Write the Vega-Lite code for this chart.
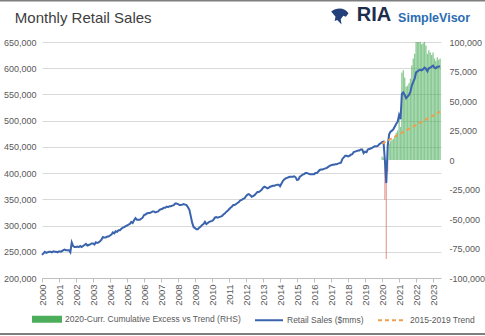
{
"$schema": "https://vega.github.io/schema/vega-lite/v6.json",
"width": 399, "height": 236,
"autosize": {"type": "none"},
"padding": {"left": 42, "top": 42, "right": 44, "bottom": 58},
"background": "white",
"config": {"view": {"stroke": null}, "axis": {"labelFont": "Liberation Sans", "labelColor": "#595959"}, "scale": {"continuousPadding": 0}},
"datasets": {
"heading": [{"label": "Monthly Retail Sales"}],
"logo": [{"label": "RIA"}],
"logo2": [{"label": "SimpleVisor"}],
"one": [{"k": 1}]
},
"data": {"values": [
{"date":"2000-01-01","sales":244000},{"date":"2000-02-01","sales":247000},{"date":"2000-03-01","sales":250000},{"date":"2000-04-01","sales":248000},{"date":"2000-05-01","sales":249000},{"date":"2000-06-01","sales":250000},{"date":"2000-07-01","sales":250000},{"date":"2000-08-01","sales":249000},{"date":"2000-09-01","sales":251000},{"date":"2000-10-01","sales":250000},{"date":"2000-11-01","sales":250000},{"date":"2000-12-01","sales":249000},
{"date":"2001-01-01","sales":251000},{"date":"2001-02-01","sales":250000},{"date":"2001-03-01","sales":251000},{"date":"2001-04-01","sales":253000},{"date":"2001-05-01","sales":254000},{"date":"2001-06-01","sales":253000},{"date":"2001-07-01","sales":253000},{"date":"2001-08-01","sales":253000},{"date":"2001-09-01","sales":249000},{"date":"2001-10-01","sales":268000},{"date":"2001-11-01","sales":261000},{"date":"2001-12-01","sales":259000},
{"date":"2002-01-01","sales":259000},{"date":"2002-02-01","sales":260000},{"date":"2002-03-01","sales":259000},{"date":"2002-04-01","sales":261000},{"date":"2002-05-01","sales":259000},{"date":"2002-06-01","sales":261000},{"date":"2002-07-01","sales":263000},{"date":"2002-08-01","sales":265000},{"date":"2002-09-01","sales":262000},{"date":"2002-10-01","sales":263000},{"date":"2002-11-01","sales":264000},{"date":"2002-12-01","sales":266000},
{"date":"2003-01-01","sales":266000},{"date":"2003-02-01","sales":264000},{"date":"2003-03-01","sales":268000},{"date":"2003-04-01","sales":267000},{"date":"2003-05-01","sales":268000},{"date":"2003-06-01","sales":270000},{"date":"2003-07-01","sales":273000},{"date":"2003-08-01","sales":278000},{"date":"2003-09-01","sales":277000},{"date":"2003-10-01","sales":277000},{"date":"2003-11-01","sales":279000},{"date":"2003-12-01","sales":279000},
{"date":"2004-01-01","sales":281000},{"date":"2004-02-01","sales":283000},{"date":"2004-03-01","sales":287000},{"date":"2004-04-01","sales":285000},{"date":"2004-05-01","sales":289000},{"date":"2004-06-01","sales":288000},{"date":"2004-07-01","sales":291000},{"date":"2004-08-01","sales":291000},{"date":"2004-09-01","sales":294000},{"date":"2004-10-01","sales":296000},{"date":"2004-11-01","sales":297000},{"date":"2004-12-01","sales":299000},
{"date":"2005-01-01","sales":300000},{"date":"2005-02-01","sales":302000},{"date":"2005-03-01","sales":303000},{"date":"2005-04-01","sales":307000},{"date":"2005-05-01","sales":305000},{"date":"2005-06-01","sales":310000},{"date":"2005-07-01","sales":314000},{"date":"2005-08-01","sales":311000},{"date":"2005-09-01","sales":311000},{"date":"2005-10-01","sales":311000},{"date":"2005-11-01","sales":313000},{"date":"2005-12-01","sales":315000},
{"date":"2006-01-01","sales":320000},{"date":"2006-02-01","sales":321000},{"date":"2006-03-01","sales":323000},{"date":"2006-04-01","sales":324000},{"date":"2006-05-01","sales":324000},{"date":"2006-06-01","sales":325000},{"date":"2006-07-01","sales":327000},{"date":"2006-08-01","sales":327000},{"date":"2006-09-01","sales":325000},{"date":"2006-10-01","sales":326000},{"date":"2006-11-01","sales":327000},{"date":"2006-12-01","sales":330000},
{"date":"2007-01-01","sales":331000},{"date":"2007-02-01","sales":332000},{"date":"2007-03-01","sales":334000},{"date":"2007-04-01","sales":334000},{"date":"2007-05-01","sales":336000},{"date":"2007-06-01","sales":335000},{"date":"2007-07-01","sales":337000},{"date":"2007-08-01","sales":337000},{"date":"2007-09-01","sales":338000},{"date":"2007-10-01","sales":339000},{"date":"2007-11-01","sales":342000},{"date":"2007-12-01","sales":342000},
{"date":"2008-01-01","sales":341000},{"date":"2008-02-01","sales":339000},{"date":"2008-03-01","sales":339000},{"date":"2008-04-01","sales":340000},{"date":"2008-05-01","sales":341000},{"date":"2008-06-01","sales":340000},{"date":"2008-07-01","sales":339000},{"date":"2008-08-01","sales":335000},{"date":"2008-09-01","sales":330000},{"date":"2008-10-01","sales":318000},{"date":"2008-11-01","sales":305000},{"date":"2008-12-01","sales":297000},
{"date":"2009-01-01","sales":295000},{"date":"2009-02-01","sales":293000},{"date":"2009-03-01","sales":293000},{"date":"2009-04-01","sales":296000},{"date":"2009-05-01","sales":298000},{"date":"2009-06-01","sales":301000},{"date":"2009-07-01","sales":303000},{"date":"2009-08-01","sales":307000},{"date":"2009-09-01","sales":303000},{"date":"2009-10-01","sales":305000},{"date":"2009-11-01","sales":307000},{"date":"2009-12-01","sales":308000},
{"date":"2010-01-01","sales":309000},{"date":"2010-02-01","sales":311000},{"date":"2010-03-01","sales":315000},{"date":"2010-04-01","sales":316000},{"date":"2010-05-01","sales":315000},{"date":"2010-06-01","sales":316000},{"date":"2010-07-01","sales":317000},{"date":"2010-08-01","sales":318000},{"date":"2010-09-01","sales":321000},{"date":"2010-10-01","sales":323000},{"date":"2010-11-01","sales":326000},{"date":"2010-12-01","sales":328000},
{"date":"2011-01-01","sales":331000},{"date":"2011-02-01","sales":334000},{"date":"2011-03-01","sales":336000},{"date":"2011-04-01","sales":339000},{"date":"2011-05-01","sales":339000},{"date":"2011-06-01","sales":341000},{"date":"2011-07-01","sales":343000},{"date":"2011-08-01","sales":345000},{"date":"2011-09-01","sales":348000},{"date":"2011-10-01","sales":349000},{"date":"2011-11-01","sales":351000},{"date":"2011-12-01","sales":352000},
{"date":"2012-01-01","sales":356000},{"date":"2012-02-01","sales":359000},{"date":"2012-03-01","sales":360000},{"date":"2012-04-01","sales":358000},{"date":"2012-05-01","sales":355000},{"date":"2012-06-01","sales":356000},{"date":"2012-07-01","sales":358000},{"date":"2012-08-01","sales":361000},{"date":"2012-09-01","sales":364000},{"date":"2012-10-01","sales":364000},{"date":"2012-11-01","sales":366000},{"date":"2012-12-01","sales":368000},
{"date":"2013-01-01","sales":372000},{"date":"2013-02-01","sales":374000},{"date":"2013-03-01","sales":373000},{"date":"2013-04-01","sales":371000},{"date":"2013-05-01","sales":372000},{"date":"2013-06-01","sales":374000},{"date":"2013-07-01","sales":375000},{"date":"2013-08-01","sales":376000},{"date":"2013-09-01","sales":376000},{"date":"2013-10-01","sales":377000},{"date":"2013-11-01","sales":378000},{"date":"2013-12-01","sales":378000},
{"date":"2014-01-01","sales":375000},{"date":"2014-02-01","sales":380000},{"date":"2014-03-01","sales":385000},{"date":"2014-04-01","sales":388000},{"date":"2014-05-01","sales":390000},{"date":"2014-06-01","sales":391000},{"date":"2014-07-01","sales":392000},{"date":"2014-08-01","sales":393000},{"date":"2014-09-01","sales":393000},{"date":"2014-10-01","sales":393000},{"date":"2014-11-01","sales":394000},{"date":"2014-12-01","sales":392000},
{"date":"2015-01-01","sales":387000},{"date":"2015-02-01","sales":388000},{"date":"2015-03-01","sales":393000},{"date":"2015-04-01","sales":395000},{"date":"2015-05-01","sales":397000},{"date":"2015-06-01","sales":398000},{"date":"2015-07-01","sales":400000},{"date":"2015-08-01","sales":400000},{"date":"2015-09-01","sales":399000},{"date":"2015-10-01","sales":398000},{"date":"2015-11-01","sales":398000},{"date":"2015-12-01","sales":398000},
{"date":"2016-01-01","sales":398000},{"date":"2016-02-01","sales":400000},{"date":"2016-03-01","sales":400000},{"date":"2016-04-01","sales":403000},{"date":"2016-05-01","sales":406000},{"date":"2016-06-01","sales":407000},{"date":"2016-07-01","sales":407000},{"date":"2016-08-01","sales":408000},{"date":"2016-09-01","sales":409000},{"date":"2016-10-01","sales":410000},{"date":"2016-11-01","sales":412000},{"date":"2016-12-01","sales":414000},
{"date":"2017-01-01","sales":415000},{"date":"2017-02-01","sales":416000},{"date":"2017-03-01","sales":416000},{"date":"2017-04-01","sales":417000},{"date":"2017-05-01","sales":417000},{"date":"2017-06-01","sales":418000},{"date":"2017-07-01","sales":419000},{"date":"2017-08-01","sales":420000},{"date":"2017-09-01","sales":427000},{"date":"2017-10-01","sales":430000},{"date":"2017-11-01","sales":433000},{"date":"2017-12-01","sales":433000},
{"date":"2018-01-01","sales":432000},{"date":"2018-02-01","sales":433000},{"date":"2018-03-01","sales":435000},{"date":"2018-04-01","sales":436000},{"date":"2018-05-01","sales":440000},{"date":"2018-06-01","sales":441000},{"date":"2018-07-01","sales":442000},{"date":"2018-08-01","sales":443000},{"date":"2018-09-01","sales":443000},{"date":"2018-10-01","sales":445000},{"date":"2018-11-01","sales":445000},{"date":"2018-12-01","sales":438000},
{"date":"2019-01-01","sales":441000},{"date":"2019-02-01","sales":440000},{"date":"2019-03-01","sales":445000},{"date":"2019-04-01","sales":446000},{"date":"2019-05-01","sales":447000},{"date":"2019-06-01","sales":448000},{"date":"2019-07-01","sales":450000},{"date":"2019-08-01","sales":451000},{"date":"2019-09-01","sales":451000},{"date":"2019-10-01","sales":452000},{"date":"2019-11-01","sales":455000},{"date":"2019-12-01","sales":457000},
{"date":"2020-01-01","sales":459000,"trend":456000,"excess":3000},{"date":"2020-02-01","sales":460000,"trend":457500,"excess":2000},{"date":"2020-03-01","sales":425000,"trend":459000,"excess":-34000},{"date":"2020-04-01","sales":381000,"trend":460500,"excess":-84000},{"date":"2020-05-01","sales":452000,"trend":462000,"excess":-10000},{"date":"2020-06-01","sales":474000,"trend":463500,"excess":14000},{"date":"2020-07-01","sales":479000,"trend":464900,"excess":16000},{"date":"2020-08-01","sales":481000,"trend":466400,"excess":17000},{"date":"2020-09-01","sales":484000,"trend":467900,"excess":18000},{"date":"2020-10-01","sales":489000,"trend":469400,"excess":20000},{"date":"2020-11-01","sales":494000,"trend":470900,"excess":23000},{"date":"2020-12-01","sales":498000,"trend":472400,"excess":25000},
{"date":"2021-01-01","sales":511000,"trend":473900,"excess":38000},{"date":"2021-02-01","sales":503000,"trend":475400,"excess":28000},{"date":"2021-03-01","sales":551000,"trend":476900,"excess":74000},{"date":"2021-04-01","sales":554000,"trend":478400,"excess":76000},{"date":"2021-05-01","sales":549000,"trend":479800,"excess":70000},{"date":"2021-06-01","sales":543000,"trend":481300,"excess":62000},{"date":"2021-07-01","sales":546000,"trend":482800,"excess":63000},{"date":"2021-08-01","sales":549000,"trend":484300,"excess":65000},{"date":"2021-09-01","sales":555000,"trend":485800,"excess":69000},{"date":"2021-10-01","sales":567000,"trend":487300,"excess":80000},{"date":"2021-11-01","sales":574000,"trend":488800,"excess":86000},{"date":"2021-12-01","sales":580000,"trend":490300,"excess":90000},
{"date":"2022-01-01","sales":592000,"trend":491800,"excess":100000},{"date":"2022-02-01","sales":594000,"trend":493300,"excess":101000},{"date":"2022-03-01","sales":596000,"trend":494800,"excess":102000},{"date":"2022-04-01","sales":597000,"trend":496200,"excess":100000},{"date":"2022-05-01","sales":596000,"trend":497700,"excess":98000},{"date":"2022-06-01","sales":598000,"trend":499200,"excess":99000},{"date":"2022-07-01","sales":601000,"trend":500700,"excess":101000},{"date":"2022-08-01","sales":599000,"trend":502200,"excess":97000},{"date":"2022-09-01","sales":594000,"trend":503700,"excess":90000},{"date":"2022-10-01","sales":600000,"trend":505200,"excess":93000},{"date":"2022-11-01","sales":601000,"trend":506700,"excess":91000},{"date":"2022-12-01","sales":603000,"trend":508200,"excess":89000},
{"date":"2023-01-01","sales":605000,"trend":509700,"excess":91000},{"date":"2023-02-01","sales":601000,"trend":511100,"excess":86000},{"date":"2023-03-01","sales":600000,"trend":512600,"excess":84000},{"date":"2023-04-01","sales":603000,"trend":514100,"excess":87000},{"date":"2023-05-01","sales":603000,"trend":515600,"excess":85000},{"date":"2023-06-01","sales":604000,"trend":517100,"excess":86000}
]},
"layer": [
  {"encoding": {
    "x": {"field": "date", "type": "temporal",
      "scale": {"type": "utc", "padding": 0, "domain": [{"year": 2000, "month": 1, "date": 1, "utc": true}, {"year": 2023, "month": 6, "date": 20, "utc": true}]},
      "axis": {"title": null, "format": "%Y", "tickCount": {"interval": "year", "step": 1}, "labelAngle": -90, "grid": false, "domainColor": "#bfbfbf", "tickColor": "#bfbfbf", "tickSize": 4, "labelPadding": 2, "labelFontSize": 9.5, "labelOverlap": false, "labelFlush": false}}},
   "layer": [
    {"transform": [{"filter": "datum.excess >= 0"}],
     "mark": {"type": "bar", "size": 1.3, "opacity": 0.65, "clip": true},
     "encoding": {
       "y": {"field": "excess", "type": "quantitative", "scale": {"domain": [-100000, 100000], "nice": false},
         "axis": {"orient": "right", "title": null, "values": [-100000, -75000, -50000, -25000, 0, 25000, 50000, 75000, 100000], "labelExpr": "replace(format(datum.value, ','), '\u2212', '-')", "grid": false, "domain": false, "ticks": false, "labelPadding": 8, "labelFontSize": 9}},
       "color": {"datum": "2020-Curr. Cumulative Excess vs Trend (RHS)", "type": "nominal",
         "scale": {"domain": ["2020-Curr. Cumulative Excess vs Trend (RHS)", "Retail Sales ($mms)", "2015-2019 Trend"], "range": ["#4cae5b", "#3a63ad", "#ed9e4f"]},
         "legend": {"orient": "none", "legendX": -10, "legendY": 262, "direction": "horizontal", "title": null, "padding": 0, "columnPadding": 10, "labelOffset": 3, "labelLimit": 400, "symbolSize": 784, "symbolStrokeWidth": 2, "symbolOpacity": 1, "labelFont": "Liberation Sans", "labelFontSize": 8.5, "labelColor": "#595959",
           "encode": {"symbols": {"update": {
             "shape": {"signal": "datum.value === '2020-Curr. Cumulative Excess vs Trend (RHS)' ? 'M-1,-0.18H1V0.18H-1Z' : 'stroke'"},
             "strokeDash": {"signal": "datum.value === '2015-2019 Trend' ? [4,3] : []"},
             "fill": {"signal": "datum.value === '2020-Curr. Cumulative Excess vs Trend (RHS)' ? '#4cae5b' : 'transparent'"},
             "stroke": {"signal": "datum.value === '2020-Curr. Cumulative Excess vs Trend (RHS)' ? 'transparent' : (datum.value === '2015-2019 Trend' ? '#ed9e4f' : '#3a63ad')"},
             "opacity": {"value": 1}
           }}}}}
     }},
    {"transform": [{"filter": "datum.excess < 0"}],
     "mark": {"type": "bar", "size": 1.2, "color": "#e3908a", "opacity": 0.85},
     "encoding": {"y": {"field": "excess", "type": "quantitative", "scale": {"domain": [-100000, 100000], "nice": false},
         "axis": {"orient": "right", "title": null, "values": [-100000, -75000, -50000, -25000, 0, 25000, 50000, 75000, 100000], "labelExpr": "replace(format(datum.value, ','), '\u2212', '-')", "grid": false, "domain": false, "ticks": false, "labelPadding": 8, "labelFontSize": 9}}}}
  ]},
  {"layer": [
    {"mark": {"type": "line", "strokeWidth": 2},
     "encoding": {
       "x": {"field": "date", "type": "temporal",
         "scale": {"type": "utc", "padding": 0, "domain": [{"year": 2000, "month": 1, "date": 1, "utc": true}, {"year": 2023, "month": 6, "date": 20, "utc": true}]},
         "axis": {"title": null, "format": "%Y", "tickCount": {"interval": "year", "step": 1}, "labelAngle": -90, "grid": false, "domainColor": "#bfbfbf", "tickColor": "#bfbfbf", "tickSize": 4, "labelPadding": 2, "labelFontSize": 9.5, "labelOverlap": false, "labelFlush": false}},
       "y": {"field": "sales", "type": "quantitative", "scale": {"domain": [200000, 650000], "nice": false},
         "axis": {"orient": "left", "title": null, "values": [200000, 250000, 300000, 350000, 400000, 450000, 500000, 550000, 600000, 650000], "labelExpr": "format(datum.value, ',')", "grid": true, "gridColor": "#d9d9d9", "domain": false, "ticks": false, "labelPadding": 6, "labelFontSize": 9}},
       "color": {"datum": "Retail Sales ($mms)", "type": "nominal"}}},
    {"transform": [{"filter": "isValid(datum.trend)"}],
     "mark": {"type": "line", "strokeWidth": 2, "strokeDash": [4, 3]},
     "encoding": {
       "x": {"field": "date", "type": "temporal",
         "scale": {"type": "utc", "padding": 0, "domain": [{"year": 2000, "month": 1, "date": 1, "utc": true}, {"year": 2023, "month": 6, "date": 20, "utc": true}]},
         "axis": {"title": null, "format": "%Y", "tickCount": {"interval": "year", "step": 1}, "labelAngle": -90, "grid": false, "domainColor": "#bfbfbf", "tickColor": "#bfbfbf", "tickSize": 4, "labelPadding": 2, "labelFontSize": 9.5, "labelOverlap": false, "labelFlush": false}},
       "y": {"field": "trend", "type": "quantitative", "scale": {"domain": [200000, 650000], "nice": false},
         "axis": {"orient": "left", "title": null, "values": [200000, 250000, 300000, 350000, 400000, 450000, 500000, 550000, 600000, 650000], "labelExpr": "format(datum.value, ',')", "grid": true, "gridColor": "#d9d9d9", "domain": false, "ticks": false, "labelPadding": 6, "labelFontSize": 9}},
       "color": {"datum": "2015-2019 Trend", "type": "nominal"}}},
    {"data": {"name": "heading"},
     "mark": {"type": "text", "align": "left", "baseline": "alphabetic", "font": "Liberation Sans", "fontSize": 15, "color": "#404040"},
     "encoding": {
       "x": {"datum": {"year": 1998, "month": 5, "date": 28, "utc": true}, "type": "temporal",
         "scale": {"type": "utc", "padding": 0, "domain": [{"year": 2000, "month": 1, "date": 1, "utc": true}, {"year": 2023, "month": 6, "date": 20, "utc": true}]},
         "axis": {"title": null, "format": "%Y", "tickCount": {"interval": "year", "step": 1}, "labelAngle": -90, "grid": false, "domainColor": "#bfbfbf", "tickColor": "#bfbfbf", "tickSize": 4, "labelPadding": 2, "labelFontSize": 9.5, "labelOverlap": false, "labelFlush": false}},
       "y": {"datum": 687000, "type": "quantitative", "scale": {"domain": [200000, 650000], "nice": false},
         "axis": {"orient": "left", "title": null, "values": [200000, 250000, 300000, 350000, 400000, 450000, 500000, 550000, 600000, 650000], "labelExpr": "format(datum.value, ',')", "grid": true, "gridColor": "#d9d9d9", "domain": false, "ticks": false, "labelPadding": 6, "labelFontSize": 9}},
       "text": {"field": "label"}}},
    {"data": {"name": "logo"},
     "mark": {"type": "text", "align": "left", "baseline": "alphabetic", "font": "Liberation Sans", "fontSize": 20, "fontWeight": "bold", "color": "#1f2d4d"},
     "encoding": {
       "x": {"datum": {"year": 2018, "month": 7, "date": 8, "utc": true}, "type": "temporal",
         "scale": {"type": "utc", "padding": 0, "domain": [{"year": 2000, "month": 1, "date": 1, "utc": true}, {"year": 2023, "month": 6, "date": 20, "utc": true}]},
         "axis": {"title": null, "format": "%Y", "tickCount": {"interval": "year", "step": 1}, "labelAngle": -90, "grid": false, "domainColor": "#bfbfbf", "tickColor": "#bfbfbf", "tickSize": 4, "labelPadding": 2, "labelFontSize": 9.5, "labelOverlap": false, "labelFlush": false}},
       "y": {"datum": 690000, "type": "quantitative", "scale": {"domain": [200000, 650000], "nice": false},
         "axis": {"orient": "left", "title": null, "values": [200000, 250000, 300000, 350000, 400000, 450000, 500000, 550000, 600000, 650000], "labelExpr": "format(datum.value, ',')", "grid": true, "gridColor": "#d9d9d9", "domain": false, "ticks": false, "labelPadding": 6, "labelFontSize": 9}},
       "text": {"field": "label"}}},
    {"data": {"name": "logo2"},
     "mark": {"type": "text", "align": "left", "baseline": "alphabetic", "font": "Liberation Sans", "fontSize": 12.5, "fontWeight": "bold", "color": "#2b6cb3"},
     "encoding": {
       "x": {"datum": {"year": 2020, "month": 12, "date": 10, "utc": true}, "type": "temporal",
         "scale": {"type": "utc", "padding": 0, "domain": [{"year": 2000, "month": 1, "date": 1, "utc": true}, {"year": 2023, "month": 6, "date": 20, "utc": true}]},
         "axis": {"title": null, "format": "%Y", "tickCount": {"interval": "year", "step": 1}, "labelAngle": -90, "grid": false, "domainColor": "#bfbfbf", "tickColor": "#bfbfbf", "tickSize": 4, "labelPadding": 2, "labelFontSize": 9.5, "labelOverlap": false, "labelFlush": false}},
       "y": {"datum": 689000, "type": "quantitative", "scale": {"domain": [200000, 650000], "nice": false},
         "axis": {"orient": "left", "title": null, "values": [200000, 250000, 300000, 350000, 400000, 450000, 500000, 550000, 600000, 650000], "labelExpr": "format(datum.value, ',')", "grid": true, "gridColor": "#d9d9d9", "domain": false, "ticks": false, "labelPadding": 6, "labelFontSize": 9}},
       "text": {"field": "label"}}},
    {"data": {"name": "one"},
     "mark": {"type": "point", "filled": true, "opacity": 1, "color": "#23407a", "size": 300, "shape": "M-1,-0.5 C-0.4,-1 0.6,-1 1,-0.3 L0.7,0.1 L0.4,0 L0.1,0.4 L0.2,1 L-0.3,0.5 L-0.6,0.6 L-0.5,0.1 Z"},
     "encoding": {
       "x": {"datum": {"year": 2017, "month": 7, "date": 8, "utc": true}, "type": "temporal",
         "scale": {"type": "utc", "padding": 0, "domain": [{"year": 2000, "month": 1, "date": 1, "utc": true}, {"year": 2023, "month": 6, "date": 20, "utc": true}]},
         "axis": {"title": null, "format": "%Y", "tickCount": {"interval": "year", "step": 1}, "labelAngle": -90, "grid": false, "domainColor": "#bfbfbf", "tickColor": "#bfbfbf", "tickSize": 4, "labelPadding": 2, "labelFontSize": 9.5, "labelOverlap": false, "labelFlush": false}},
       "y": {"datum": 700000, "type": "quantitative", "scale": {"domain": [200000, 650000], "nice": false},
         "axis": {"orient": "left", "title": null, "values": [200000, 250000, 300000, 350000, 400000, 450000, 500000, 550000, 600000, 650000], "labelExpr": "format(datum.value, ',')", "grid": true, "gridColor": "#d9d9d9", "domain": false, "ticks": false, "labelPadding": 6, "labelFontSize": 9}}}},
    {"data": {"name": "one"},
     "mark": {"type": "rule", "color": "#7f7f7f", "strokeWidth": 2},
     "encoding": {
       "x": {"datum": {"year": 1997, "month": 1, "date": 1, "utc": true}, "type": "temporal",
         "scale": {"type": "utc", "padding": 0, "domain": [{"year": 2000, "month": 1, "date": 1, "utc": true}, {"year": 2023, "month": 6, "date": 20, "utc": true}]},
         "axis": {"title": null, "format": "%Y", "tickCount": {"interval": "year", "step": 1}, "labelAngle": -90, "grid": false, "domainColor": "#bfbfbf", "tickColor": "#bfbfbf", "tickSize": 4, "labelPadding": 2, "labelFontSize": 9.5, "labelOverlap": false, "labelFlush": false}},
       "x2": {"datum": {"year": 2027, "month": 1, "date": 1, "utc": true}},
       "y": {"datum": 729000, "type": "quantitative", "scale": {"domain": [200000, 650000], "nice": false},
         "axis": {"orient": "left", "title": null, "values": [200000, 250000, 300000, 350000, 400000, 450000, 500000, 550000, 600000, 650000], "labelExpr": "format(datum.value, ',')", "grid": true, "gridColor": "#d9d9d9", "domain": false, "ticks": false, "labelPadding": 6, "labelFontSize": 9}}}},
    {"data": {"name": "one"},
     "mark": {"type": "rule", "color": "#7f7f7f", "strokeWidth": 2},
     "encoding": {
       "x": {"datum": {"year": 1997, "month": 1, "date": 1, "utc": true}, "type": "temporal",
         "scale": {"type": "utc", "padding": 0, "domain": [{"year": 2000, "month": 1, "date": 1, "utc": true}, {"year": 2023, "month": 6, "date": 20, "utc": true}]},
         "axis": {"title": null, "format": "%Y", "tickCount": {"interval": "year", "step": 1}, "labelAngle": -90, "grid": false, "domainColor": "#bfbfbf", "tickColor": "#bfbfbf", "tickSize": 4, "labelPadding": 2, "labelFontSize": 9.5, "labelOverlap": false, "labelFlush": false}},
       "x2": {"datum": {"year": 2027, "month": 1, "date": 1, "utc": true}},
       "y": {"datum": 93200, "type": "quantitative", "scale": {"domain": [200000, 650000], "nice": false},
         "axis": {"orient": "left", "title": null, "values": [200000, 250000, 300000, 350000, 400000, 450000, 500000, 550000, 600000, 650000], "labelExpr": "format(datum.value, ',')", "grid": true, "gridColor": "#d9d9d9", "domain": false, "ticks": false, "labelPadding": 6, "labelFontSize": 9}}}}
  ]}
],
"resolve": {"scale": {"y": "independent"}}
}
